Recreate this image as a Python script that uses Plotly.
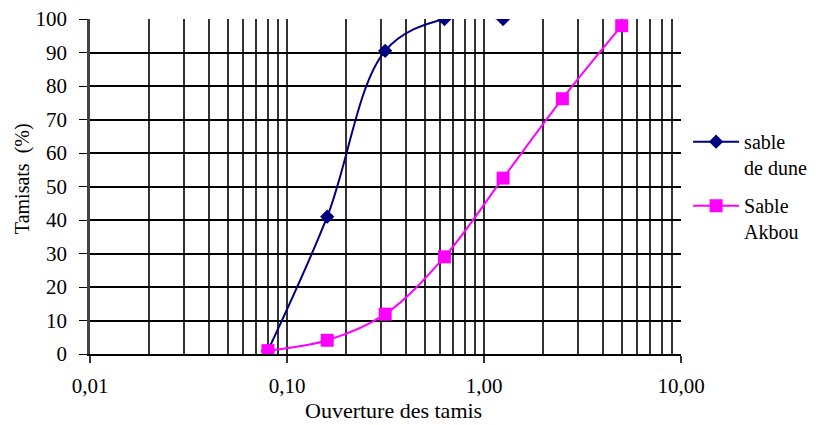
import plotly.graph_objects as go

# Data
sieve_dune = [0.08, 0.16, 0.315, 0.63, 1.25]
pass_dune = [1, 41, 90.5, 100, 100]
sieve_akbou = [0.08, 0.16, 0.315, 0.63, 1.25, 2.5, 5.0]
pass_akbou = [1, 4.1, 11.9, 29, 52.5, 76.2, 98]
x_tickvals = [0.01, 0.1, 1, 10]
x_ticktext = ["0,01", "0,10", "1,00", "10,00"]
y_tickvals = [0, 10, 20, 30, 40, 50, 60, 70, 80, 90, 100]
x_title = "Ouverture des tamis"
y_title = "Tamisats  (%)"

minor_vals = [m * 10 ** e for e in (-2, -1, 0) for m in range(2, 10)]

FONT = "Times New Roman, Liberation Serif, serif"

fig = go.Figure()
fig.add_trace(go.Scatter(
    x=sieve_dune, y=pass_dune, mode="lines+markers", name="sable<br>de dune",
    legendgroup="a",
    line=dict(color="#000080", width=2, shape="spline", smoothing=1.0),
    marker=dict(symbol="diamond", size=11, color="#000080"),
))
fig.add_trace(go.Scatter(
    x=sieve_akbou, y=pass_akbou, mode="lines+markers", name="Sable<br>Akbou",
    legendgroup="b",
    line=dict(color="#FF00FF", width=2, shape="spline", smoothing=1.0),
    marker=dict(symbol="square", size=13, color="#FF00FF"),
))

fig.update_layout(
    width=822, height=425,
    margin=dict(l=90, r=141, t=19, b=71, autoexpand=False),
    paper_bgcolor="white", plot_bgcolor="white",
    font=dict(family=FONT, size=21, color="black"),
    showlegend=True,
    legend=dict(x=1.012, y=0.692, xanchor="left", yanchor="top",
                font=dict(family=FONT, size=20, color="black"),
                valign="top", traceorder="grouped", tracegroupgap=9,
                itemwidth=46, bgcolor="rgba(0,0,0,0)"),
    xaxis=dict(
        type="log", range=[-2, 1], automargin=False,
        tickvals=x_tickvals, ticktext=x_ticktext,
        tickfont=dict(family=FONT, size=21),
        ticks="outside", ticklen=7, tickcolor="#333", tickwidth=2,
        showgrid=True, gridcolor="#333", gridwidth=2,
        minor=dict(tickvals=minor_vals, showgrid=True, gridcolor="#333", gridwidth=1.5, ticks=""),
        showline=True, linecolor="black", linewidth=2,
        zeroline=False,
        ticklabelstandoff=5,
    ),
    yaxis=dict(
        range=[0, 100], tickvals=y_tickvals, automargin=False,
        tickfont=dict(family=FONT, size=21),
        ticks="outside", ticklen=8, tickcolor="black", tickwidth=1,
        showgrid=True, gridcolor="black", gridwidth=1.5,
        showline=True, linecolor="#444", linewidth=2.5,
        zeroline=False,
        ticklabelstandoff=8,
    ),
    annotations=[
        dict(text=x_title, xref="paper", yref="paper", x=0.514, y=-0.168,
             xanchor="center", yanchor="middle", showarrow=False,
             font=dict(family=FONT, size=22)),
        dict(text=y_title, xref="paper", yref="paper", x=-0.115, y=0.522,
             xanchor="center", yanchor="middle", showarrow=False, textangle=-90,
             font=dict(family=FONT, size=20)),
    ],
)

fig.write_html("out.html")
